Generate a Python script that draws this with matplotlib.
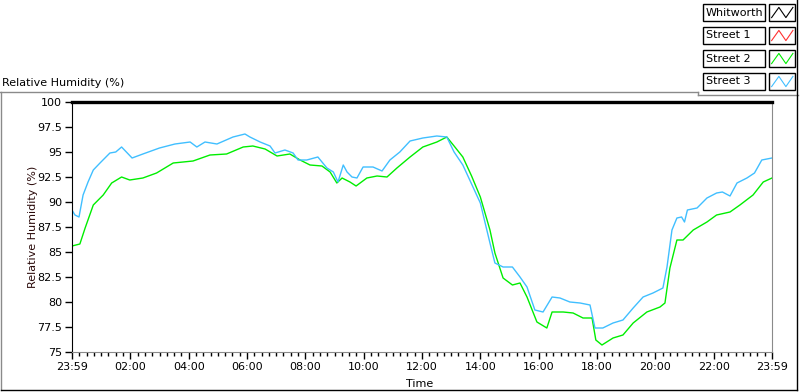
import numpy as np
import matplotlib
matplotlib.use("Agg")
import matplotlib.pyplot as plt
from matplotlib.patches import Rectangle
from matplotlib.lines import Line2D

# -------------------------------
# Data (hours after 23:59, relative humidity %)
# -------------------------------
street3_t = [0.0, 0.1, 0.24, 0.38, 0.55, 0.73, 0.96, 1.3, 1.5, 1.7, 2.06, 2.43, 3.0,
             3.53, 4.05, 4.28, 4.56, 4.97, 5.52, 5.93, 6.1, 6.45, 6.79, 6.96, 7.3,
             7.58, 7.75, 8.05, 8.43, 8.74, 8.96, 9.12, 9.3, 9.43, 9.6, 9.77, 9.98,
             10.32, 10.63, 10.9, 11.24, 11.59, 12.03, 12.51, 12.85, 13.1, 13.4, 13.7,
             14.0, 14.33, 14.5, 14.78, 15.1, 15.36, 15.6, 15.87, 16.15, 16.46, 16.73,
             17.07, 17.42, 17.76, 17.93, 18.2, 18.55, 18.89, 19.24, 19.58, 19.92,
             20.26, 20.4, 20.57, 20.74, 20.9, 21.0, 21.1, 21.43, 21.77, 22.1, 22.3,
             22.56, 22.8, 23.14, 23.4, 23.65, 24.0]
street3_v = [89.2, 88.7, 88.5, 90.7, 92.0, 93.2, 93.9, 94.9, 95.0, 95.5, 94.4, 94.8, 95.4,
             95.8, 96.0, 95.5, 96.0, 95.8, 96.5, 96.8, 96.5, 96.0, 95.6, 94.9, 95.2,
             94.9, 94.2, 94.2, 94.5, 93.4, 93.0, 92.0, 93.7, 93.0, 92.5, 92.4, 93.5,
             93.5, 93.1, 94.2, 95.0, 96.1, 96.4, 96.6, 96.5, 95.0, 93.7, 91.8,
             89.9, 85.9, 83.9, 83.5, 83.5, 82.5, 81.5, 79.2, 79.0, 80.5, 80.4,
             80.0, 79.9, 79.7, 77.4, 77.4, 77.9, 78.2, 79.4, 80.5, 80.9,
             81.4, 83.5, 87.2, 88.4, 88.5, 88.0, 89.2, 89.4, 90.4, 90.9, 91.0,
             90.6, 91.9, 92.4, 92.9, 94.2, 94.4]

street2_t = [0.0, 0.27, 0.45, 0.73, 1.07, 1.36, 1.7, 1.98, 2.43, 2.9, 3.47, 4.15, 4.73,
             5.3, 5.87, 6.2, 6.62, 7.03, 7.47, 7.82, 8.16, 8.57, 8.85, 9.08, 9.26,
             9.53, 9.74, 10.11, 10.46, 10.8, 11.14, 11.59, 12.03, 12.51, 12.85, 13.1,
             13.4, 13.7, 14.0, 14.33, 14.5, 14.78, 15.1, 15.36, 15.6, 15.94, 16.28,
             16.46, 16.84, 17.18, 17.52, 17.83, 17.96, 18.17, 18.55, 18.89, 19.24,
             19.71, 20.16, 20.33, 20.5, 20.74, 20.95, 21.3, 21.77, 22.1, 22.56, 22.9,
             23.35, 23.7, 24.0]
street2_v = [85.6, 85.8, 87.4, 89.7, 90.7, 91.9, 92.5, 92.2, 92.4, 92.9, 93.9, 94.1, 94.7,
             94.8, 95.5, 95.6, 95.3, 94.6, 94.8, 94.2, 93.7, 93.6, 93.0, 91.9, 92.4,
             92.0, 91.6, 92.4, 92.6, 92.5, 93.4, 94.5, 95.5, 96.0, 96.5, 95.6,
             94.5, 92.6, 90.5, 87.2, 84.9, 82.4, 81.7, 81.9, 80.5, 78.0, 77.4,
             79.0, 79.0, 78.9, 78.4, 78.4, 76.2, 75.7, 76.4, 76.7, 77.9,
             79.0, 79.5, 79.9, 83.4, 86.2, 86.2, 87.2, 88.0, 88.7, 89.0, 89.7,
             90.7, 92.0, 92.4]

# Whitworth and Street 1 have no data shown
series_names = ["Whitworth", "Street 1", "Street 2", "Street 3"]
series_colors = ["black", "#ff3030", "#00ee00", "#40bfff"]

x_ticks = list(range(0, 25, 2))
x_labels = ["23:59", "02:00", "04:00", "06:00", "08:00", "10:00", "12:00",
            "14:00", "16:00", "18:00", "20:00", "22:00", "23:59"]
y_ticks = [75, 77.5, 80, 82.5, 85, 87.5, 90, 92.5, 95, 97.5, 100]

# -------------------------------
# Figure
# -------------------------------
W, H = 800, 392
plt.rcParams['font.family'] = ['DejaVu Sans']
fig = plt.figure(figsize=(W / 100, H / 100), dpi=100)


def fx(x):
    return x / W


def fy(y):
    return 1 - y / H


ax = fig.add_axes([fx(72), fy(352), 700 / W, 250 / H])
ax.plot(street2_t, street2_v, color=series_colors[2], lw=1)
ax.plot(street3_t, street3_v, color=series_colors[3], lw=1)

ax.set_xlim(0, 24)
ax.set_ylim(75, 100)
ax.set_xticks(x_ticks)
ax.set_xticklabels(x_labels)
ax.set_xticks(np.arange(0, 24.01, 0.25), minor=True)
ax.set_yticks(y_ticks)
ax.set_yticklabels([f"{v:g}" for v in y_ticks])
ax.tick_params(axis="both", which="major", length=5, width=1, labelsize=8,
               colors="black", pad=2)
ax.tick_params(axis="x", which="minor", length=3, width=1, colors="black")

ax.spines["top"].set_linewidth(2.4)
ax.spines["top"].set_color("black")
ax.spines["left"].set_color("black")
ax.spines["bottom"].set_color("#8a8a8a")
ax.spines["right"].set_color("#8a8a8a")

fig.text(fx(33), fy(227), "Relative Humidity (%)", rotation=90, ha="center",
         va="center", fontsize=8, color="#2a0a0a")
fig.text(fx(420), fy(384), "Time", ha="center", va="center", fontsize=8)
fig.text(fx(2), fy(86), "Relative Humidity (%)", ha="left", va="baseline",
         fontsize=8)

# outer panel frame
grey = "#8a8a8a"
fig.add_artist(Line2D([fx(0), fx(698)], [fy(92), fy(92)], color=grey, lw=1))
fig.add_artist(Line2D([fx(698), fx(698)], [fy(92), fy(95)], color=grey, lw=1))
fig.add_artist(Line2D([fx(698), fx(798)], [fy(95), fy(95)], color=grey, lw=1))
fig.add_artist(Line2D([fx(1), fx(1)], [fy(92), fy(390)], color=grey, lw=1))
fig.add_artist(Line2D([fx(797), fx(797)], [fy(0), fy(390)], color="black", lw=1))
fig.add_artist(Line2D([fx(1), fx(797)], [fy(390), fy(390)], color="black", lw=1))

# legend (label box + sample box per series)
zig_x = [0.1, 0.38, 0.65, 0.92]
zig_y = [0.2, 0.8, 0.2, 0.8]
for i, (name, col) in enumerate(zip(series_names, series_colors)):
    top = 4 + i * 23
    h = 17
    fig.add_artist(Rectangle((fx(703), fy(top + h)), 62 / W, h / H, fill=False,
                             edgecolor="black", lw=1))
    fig.text(fx(706), fy(top + h / 2), name, ha="left", va="center", fontsize=8)
    fig.add_artist(Rectangle((fx(769), fy(top + h)), 26 / W, h / H, fill=False,
                             edgecolor="black", lw=1))
    xs = [fx(769 + 26 * z) for z in zig_x]
    ys = [fy(top + h - h * z) for z in zig_y]
    fig.add_artist(Line2D(xs, ys, color=col, lw=0.8))

fig.savefig("out.png", dpi=100)
